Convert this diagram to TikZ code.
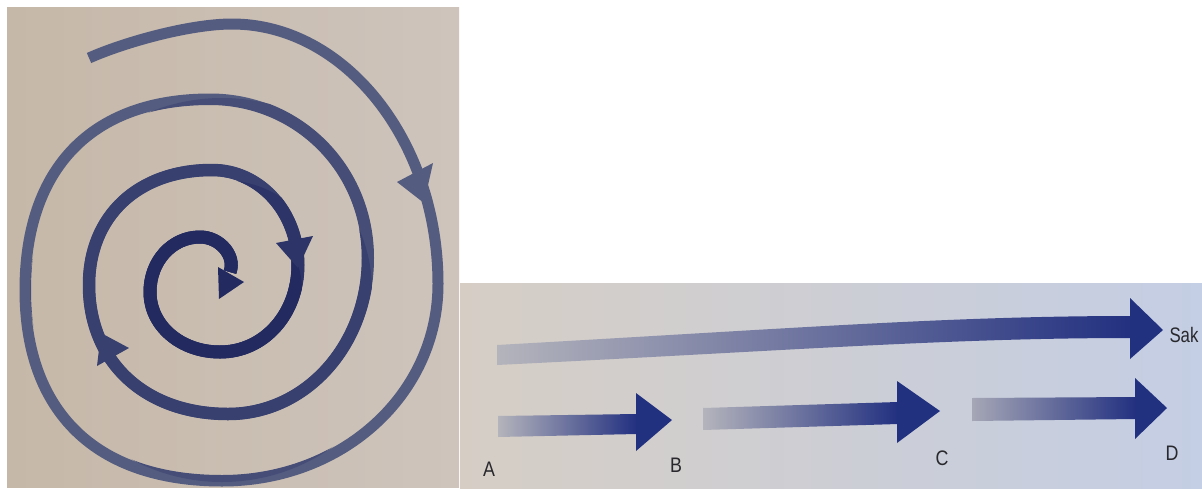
\documentclass[tikz,border=0pt]{standalone}
\usepackage{fontspec}
\setmainfont{Liberation Sans}
\definecolor{beigeL}{RGB}{198,184,168}
\definecolor{beigeR}{RGB}{206,196,188}
\definecolor{panL}{RGB}{214,206,197}
\definecolor{panM}{RGB}{214,212,212}
\definecolor{panR}{RGB}{196,206,228}
\definecolor{navy}{RGB}{34,48,128}
\definecolor{fadeg}{RGB}{180,180,188}
\definecolor{midb}{RGB}{96,104,148}
\definecolor{sp1}{RGB}{84,92,128}
\definecolor{sp2}{RGB}{70,78,120}
\definecolor{sp3}{RGB}{56,64,112}
\definecolor{sp4}{RGB}{44,52,104}
\definecolor{sp5}{RGB}{34,42,96}
\definecolor{txt}{RGB}{40,40,45}
\tikzset{
  spline/.style={line cap=butt, line join=round},
  head/.style={draw=none},
  lab/.style={text=txt, font=\fontsize{21}{21}\selectfont, inner sep=0pt, anchor=center}
}
\def\spiral{(89,58) .. controls (125,42) and (190,24) .. (232,24)
 .. controls (345,24) and (438,141) .. (438,284)
 .. controls (438,394) and (343,481) .. (222,481)
 .. controls (96,481) and (25,412) .. (25,290)
 .. controls (25,168) and (92,99) .. (210,99)
 .. controls (298,99) and (368,169) .. (368,258)
 .. controls (368,345) and (306,414) .. (228,414)
 .. controls (145,414) and (89,362) .. (89,285)
 .. controls (89,216) and (138,170) .. (212,170)
 .. controls (260,170) and (298,212) .. (298,265)
 .. controls (298,314) and (264,352) .. (220,352)
 .. controls (181,352) and (150,326) .. (150,292)
 .. controls (150,261) and (172,237) .. (200,237)
 .. controls (220,237) and (236,256) .. (230,272)}
\begin{document}
\begin{tikzpicture}[x=1pt,y=-1pt]
\useasboundingbox (0,0) rectangle (1202,488);
\fill[white] (0,0) rectangle (1202,488);
% left panel (photo of spiral)
\shade[left color=beigeL, right color=beigeR] (7,7) rectangle (459,487);
\draw[spline, sp1, line width=11pt] \spiral;
\begin{scope}
  \clip (222,290) circle[radius=192pt];
  \draw[spline, sp2, line width=12pt] \spiral;
\end{scope}
\begin{scope}
  \clip (222,290) circle[radius=150pt];
  \draw[spline, sp3, line width=12.5pt] \spiral;
\end{scope}
\begin{scope}
  \clip (222,290) circle[radius=110pt];
  \draw[spline, sp4, line width=13pt] \spiral;
\end{scope}
\begin{scope}
  \clip (222,290) circle[radius=80pt];
  \draw[spline, sp5, line width=13pt] \spiral;
\end{scope}
% spiral arrowheads
\fill[head, sp1] (397,182) -- (433,163) -- (424,203) -- cycle;
\fill[head, sp3] (97,366) -- (129,348) -- (101,333) -- cycle;
\fill[head, sp4] (276,243) -- (313,236) -- (298,268) -- cycle;
\fill[head, sp5] (218,267) -- (244,282) -- (219,299) -- cycle;
% right panel
\shade[left color=panL, middle color=panM, right color=panR] (460,283) rectangle (1202,488);
% long arrow
\shade[left color=fadeg, middle color=midb, right color=navy]
  (497,345) .. controls (800,328) and (950,316) .. (1132,316)
  -- (1132,338) .. controls (950,338) and (800,350) .. (497,365) -- cycle;
\fill[head, navy] (1130,298) -- (1163,330) -- (1130,359) -- cycle;
% A -> B
\shade[left color=fadeg, right color=navy] (498,416) -- (637,414) -- (637,434) -- (498,437) -- cycle;
\fill[head, navy] (636,393) -- (672,420) -- (636,451) -- cycle;
% B -> C
\shade[left color=fadeg, right color=navy] (703,408) -- (898,402) -- (898,424) -- (703,430) -- cycle;
\fill[head, navy] (897,381) -- (940,411) -- (897,443) -- cycle;
% C -> D
\shade[left color=fadeg!90!navy, right color=navy] (972,398) -- (1136,397) -- (1136,419) -- (972,421) -- cycle;
\fill[head, navy] (1135,378) -- (1167,408) -- (1135,439) -- cycle;
% labels
\node[lab] (la) at (489,469) {\scalebox{0.85}[1]{A}};
\node[lab] (lb) at (676,465) {\scalebox{0.85}[1]{B}};
\node[lab] (lc) at (942,458) {\scalebox{0.85}[1]{C}};
\node[lab] (ld) at (1172,453) {\scalebox{0.85}[1]{D}};
\node[lab] (ls) at (1184,335) {\scalebox{0.8}[1]{Sak}};
\end{tikzpicture}
\end{document}
